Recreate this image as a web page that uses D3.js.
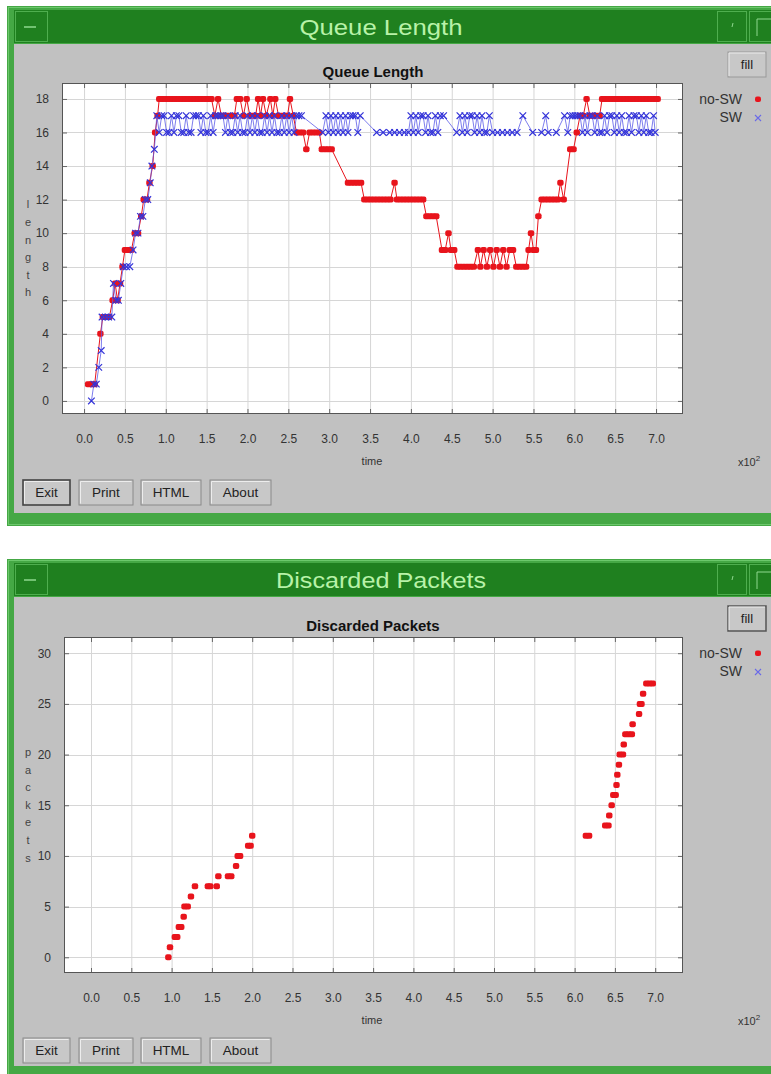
<!DOCTYPE html>
<html><head><meta charset="utf-8">
<script src="https://cdn.jsdelivr.net/npm/d3@7"></script>
<style>
body{margin:0;background:#fff;}
svg{display:block;}
text{font-family:"Liberation Sans",Arial,sans-serif;}
</style></head><body>
<svg id="c" width="771" height="1074"></svg>
<script>
// ---------------- DATA ----------------
const xTickValues = [0,50,100,150,200,250,300,350,400,450,500,550,600,650,700];
const xTickLabels = ["0.0","0.5","1.0","1.5","2.0","2.5","3.0","3.5","4.0","4.5","5.0","5.5","6.0","6.5","7.0"];
const queueTicks = [0,2,4,6,8,10,12,14,16,18];
const discardTicks = [0,5,10,15,20,25,30];
const seriesNames = ["no-SW","SW"];
const buttonLabels = ["Exit","Print","HTML","About"];

// Queue length, no-SW (time, length)
const queueNoSW = [
[5,1],[9,1],[13,1],[20,4],[23,5],[27,5],[31,5],[35,6],[38,7],[41,6],[44,7],[47,8],[50,9],[54,9],[58,9],
[62,10],[66,10],[70,11],[73,12],[77,12],[80,13],[84,14],[87,16],[90,17],
[92,18],[96,18],[100,18],[104,18],[108,18],[112,18],[116,18],[120,18],[124,18],[128,18],[132,18],[136,18],
[140,18],[144,18],[148,18],[152,18],[156,18],
[160,17],[164,18],[168,17],[172,17],[176,17],[180,17],[184,17],[187,18],[191,18],[195,17],[199,18],[203,17],
[207,17],[210,17],[213,18],[216,17],[219,18],[223,17],[228,18],[231,17],[234,18],[238,17],[242,17],[246,17],
[249,17],[252,18],[256,17],
[260,16],[264,16],[268,16],[272,15],[276,16],[280,16],[284,16],[288,16],[291,15],[295,15],[299,15],[303,15],
[323,13],[327,13],[331,13],[335,13],[339,13],[343,12],[347,12],[351,12],[355,12],[359,12],[363,12],[367,12],
[371,12],[375,12],[380,13],[383,12],[387,12],[391,12],[395,12],[399,12],[403,12],[407,12],[411,12],[415,12],
[419,11],[423,11],[427,11],[431,11],
[438,9],[442,9],[446,10],[449,9],[453,9],[457,8],[461,8],[465,8],[469,8],[473,8],[477,8],[482,9],[485,8],
[489,9],[493,8],[497,9],[501,8],[505,9],[509,8],[513,9],[517,8],[521,9],[525,9],[529,8],[533,8],[537,8],
[541,8],[544,9],[547,10],[550,9],[553,9],[556,11],[560,12],[564,12],[568,12],[572,12],[576,12],[580,12],
[583,13],[587,12],[595,15],[599,15],[603,16],[607,17],[611,17],[615,18],[619,17],[623,17],[627,17],[631,17],
[634,18],[638,18],[642,18],[646,18],[650,18],[654,18],[658,18],[662,18],[666,18],[670,18],[674,18],[678,18],
[682,18],[686,18],[690,18],[694,18],[698,18],[702,18]
];

// Queue length, SW (time, length)
const queueSW = [
[9,0],[12,1],[15,1],[18,2],[21,3],[22,5],[26,5],[30,5],[34,5],[36,7],[39,6],[42,6],[45,7],[48,8],[52,8],
[56,8],[60,9],[63,10],[66,10],[69,11],[72,11],[75,12],[78,12],[81,13],[83,14],[86,15],[89,17],
[92,16],[95,17],[98,17],[101,16],[104,16],[107,17],[110,16],[113,17],[116,17],[119,16],[122,16],[125,17],
[128,16],[131,16],[134,17],[137,17],[140,17],[143,16],[146,17],[149,16],[152,16],[155,17],[158,16],[161,17],
[164,17],[167,17],[170,17],[173,16],[176,17],[179,16],[182,16],[185,17],[188,16],[191,17],[194,16],[197,16],
[200,17],[203,16],[206,17],[209,16],[212,17],[215,16],[218,16],[221,17],[224,16],[227,17],[230,16],[233,17],
[236,16],[239,16],[242,17],[245,16],[248,17],[251,16],[254,17],[257,16],[260,17],[263,17],[266,17],
[292,16],[296,17],[299,16],[302,17],[305,16],[308,17],[311,16],[314,17],[317,16],[320,17],[323,16],[326,17],
[329,17],[332,17],[335,16],[338,17],
[358,16],[366,16],[374,16],[380,16],[386,16],[392,16],[397,16],
[400,17],[403,16],[406,17],[409,16],[412,17],[415,17],[418,16],[421,17],[424,16],[427,16],[430,17],[433,16],
[436,17],[440,17],[456,16],
[460,17],[463,16],[466,17],[469,16],[472,17],[475,17],[478,16],[481,17],[484,16],[487,17],[490,16],[493,16],
[496,17],[500,16],[506,16],[512,16],[518,16],[524,16],[530,16],[537,17],[549,16],[560,16],[565,17],[568,16],
[578,16],[588,17],
[592,16],[595,17],[598,17],[601,17],[604,17],[607,17],[610,16],[613,17],[616,16],[619,17],[622,17],[625,16],
[628,17],[631,16],[634,16],[637,17],[640,16],[643,17],[646,17],[649,16],[652,17],[655,16],[658,17],[661,16],
[664,16],[667,17],[670,16],[673,17],[676,17],[679,16],[682,17],[685,16],[688,17],[691,16],[694,16],[697,17],
[699,16]
];

// Discarded packets, no-SW (time, packets)
const discardNoSW = [
[96,0],[98,1],[104,2],[107,2],[109,3],[112,3],[115,4],[116,5],[120,5],[124,6],[129,7],[145,7],[148,7],[156,7],
[158,8],[170,8],[174,8],[180,9],[182,10],[185,10],[195,11],[198,11],[200,12],
[614,12],[618,12],[638,13],[642,13],[643,14],[646,15],[648,16],[651,16],[652,17],[653,18],[655,19],[656,20],
[660,20],[661,21],[663,22],[667,22],[671,22],[672,23],[680,24],[681,25],[683,25],[685,26],[689,27],[693,27],[697,27]
];
// Discarded packets, SW (none discarded)
const discardSW = [];

// ---------------- STYLE ----------------
const RED = "#e8141c", BLUE = "#3434d8", BLUE_LINE = "#5c5ce8";
const GREEN_DARK = "#1f801f", GREEN_BORDER = "#45a845", TITLE_TXT = "#b8f2a8", GRAY = "#c1c1c1";

const svg = d3.select("#c");

function drawWindow(cfg) {
  const g = svg.append("g").attr("transform", `translate(0,${cfg.top})`);
  // frame
  g.append("rect").attr("x",7).attr("y",0).attr("width",780).attr("height",cfg.frameH).attr("fill",GREEN_BORDER);
  g.append("rect").attr("x",8.5).attr("y",1.5).attr("width",780).attr("height",cfg.frameH-3).attr("fill","none").attr("stroke","#6cc86c").attr("stroke-width",1);
  // title bar
  g.append("rect").attr("x",14).attr("y",4).attr("width",770).attr("height",33).attr("fill",GREEN_DARK);
  // left box
  g.append("rect").attr("x",15.5).attr("y",5.5).attr("width",32).attr("height",30).attr("fill","none").attr("stroke","#4fae4f");
  g.append("line").attr("x1",24).attr("x2",36).attr("y1",21).attr("y2",21).attr("stroke","#8fd88f").attr("stroke-width",1.5);
  // right boxes
  g.append("rect").attr("x",717.5).attr("y",5.5).attr("width",29).attr("height",30).attr("fill","none").attr("stroke","#4fae4f");
  g.append("line").attr("x1",733).attr("x2",732).attr("y1",17).attr("y2",21).attr("stroke","#8fd88f");
  g.append("rect").attr("x",749.5).attr("y",5.5).attr("width",30).attr("height",30).attr("fill","none").attr("stroke","#4fae4f");
  g.append("path").attr("d","M757,30 V13 H771").attr("fill","none").attr("stroke","#8fd88f");
  // title text
  g.append("text").attr("x",381).attr("y",29).attr("text-anchor","middle")
    .attr("font-size",22).attr("fill",TITLE_TXT)
    .attr("textLength",cfg.titleW).attr("lengthAdjust","spacingAndGlyphs")
    .text(cfg.title);
  // body
  g.append("rect").attr("x",14).attr("y",38).attr("width",770).attr("height",cfg.bodyH).attr("fill",GRAY);

  // chart title
  g.append("text").attr("x",373).attr("y",cfg.chartTitleY).attr("text-anchor","middle")
    .attr("font-size",15).attr("font-weight","bold").attr("fill","#111").text(cfg.chartTitle);

  // fill button
  const fb = g.append("g").attr("transform",`translate(728,${cfg.fillY})`);
  fb.append("rect").attr("width",38).attr("height",25).attr("fill","#c8c8c8").attr("stroke",cfg.fillFocus?"#555":"#9a9a9a").attr("stroke-width",cfg.fillFocus?1.5:1);
  fb.append("path").attr("d","M1,24 V1 H37").attr("fill","none").attr("stroke","#ececec");
  fb.append("text").attr("x",19).attr("y",17).attr("text-anchor","middle").attr("font-size",13).attr("fill","#222").text("fill");

  // plot area
  const P = cfg.plot;
  const x = d3.scaleLinear().domain(cfg.xDomain).range([P.l, P.r]);
  const y = d3.scaleLinear().domain(cfg.yDomain).range([P.b, P.t]);
  const pg = g.append("g").attr("transform",`translate(0,${-cfg.top})`);
  pg.append("rect").attr("x",P.l).attr("y",P.t).attr("width",P.r-P.l).attr("height",P.b-P.t).attr("fill","#fff");

  // grid
  pg.append("g").selectAll("line").data(xTickValues).join("line")
    .attr("x1",d=>x(d)+0.5).attr("x2",d=>x(d)+0.5).attr("y1",P.t).attr("y2",P.b)
    .attr("stroke","#d6d6d6");
  pg.append("g").selectAll("line").data(cfg.yTicks).join("line")
    .attr("y1",d=>Math.round(y(d))+0.5).attr("y2",d=>Math.round(y(d))+0.5).attr("x1",P.l).attr("x2",P.r)
    .attr("stroke","#d6d6d6");

  // axes (ticks inward, on all four sides)
  const fmtX = (d)=>xTickLabels[xTickValues.indexOf(d)];
  const axB = pg.append("g").attr("transform",`translate(0,${P.b})`)
    .call(d3.axisBottom(x).tickValues(xTickValues).tickFormat(fmtX).tickSize(-5).tickPadding(20));
  const axT = pg.append("g").attr("transform",`translate(0,${P.t})`)
    .call(d3.axisTop(x).tickValues(xTickValues).tickFormat("").tickSize(-5));
  const axL = pg.append("g").attr("transform",`translate(${P.l},0)`)
    .call(d3.axisLeft(y).tickValues(cfg.yTicks).tickSize(-5).tickPadding(13));
  const axR = pg.append("g").attr("transform",`translate(${P.r},0)`)
    .call(d3.axisRight(y).tickValues(cfg.yTicks).tickFormat("").tickSize(-5));
  [axB,axT,axL,axR].forEach(a=>{
    a.select(".domain").remove();
    a.selectAll(".tick line").attr("stroke","#666");
    a.selectAll("text").attr("font-size",12).attr("fill","#333").attr("font-family","Liberation Sans, Arial, sans-serif");
  });
  pg.append("rect").attr("x",P.l+0.5).attr("y",P.t+0.5).attr("width",P.r-P.l-1).attr("height",P.b-P.t-1)
    .attr("fill","none").attr("stroke","#555");

  // series
  const s = cfg.series;
  // no-SW (red)
  if (cfg.lines) {
    pg.append("path").datum(s[0]).attr("fill","none").attr("stroke",RED).attr("stroke-width",1)
      .attr("d",d3.line().x(d=>x(d[0])).y(d=>y(d[1])));
  }
  pg.append("g").selectAll("rect").data(s[0]).join("rect")
    .attr("x",d=>x(d[0])-3.2).attr("y",d=>y(d[1])-3).attr("width",6.4).attr("height",6).attr("rx",2)
    .attr("fill",RED);
  // SW (blue)
  if (cfg.lines && s[1].length) {
    pg.append("path").datum(s[1]).attr("fill","none").attr("stroke",BLUE_LINE).attr("stroke-width",0.8)
      .attr("d",d3.line().x(d=>x(d[0])).y(d=>y(d[1])));
  }
  pg.append("g").selectAll("path.sw").data(s[1]).join("path").attr("class","sw")
    .attr("d",d=>{const cx=x(d[0]), cy=y(d[1]), r=3.3;return `M${cx-r},${cy-r}L${cx+r},${cy+r}M${cx-r},${cy+r}L${cx+r},${cy-r}`;})
    .attr("stroke",BLUE).attr("stroke-width",1.2).attr("fill","none");

  // legend
  const lg = pg.append("g");
  lg.append("text").attr("x",742).attr("y",cfg.legendY).attr("dy","0.35em").attr("text-anchor","end")
    .attr("font-size",14).attr("fill","#333").text(seriesNames[0]);
  lg.append("rect").attr("x",755).attr("y",cfg.legendY-2.5).attr("width",6).attr("height",5.5).attr("rx",2).attr("fill",RED);
  lg.append("text").attr("x",742).attr("y",cfg.legendY+18).attr("dy","0.35em").attr("text-anchor","end")
    .attr("font-size",14).attr("fill","#333").text(seriesNames[1]);
  const lx=758, ly=cfg.legendY+19;
  lg.append("path").attr("d",`M${lx-3},${ly-3}L${lx+3},${ly+3}M${lx-3},${ly+3}L${lx+3},${ly-3}`).attr("stroke","#6a6ae8").attr("stroke-width",1.1);

  // y label (stacked letters)
  const letters = cfg.yLabel.split("");
  const mid = (P.t+P.b)/2, sp = 17.6;
  pg.append("g").selectAll("text").data(letters).join("text")
    .attr("x",28).attr("y",(d,i)=>mid+(i-(letters.length-1)/2)*sp).attr("dy","0.35em")
    .attr("text-anchor","middle").attr("font-size",11).attr("fill","#444").text(d=>d);

  // x label and multiplier
  pg.append("text").attr("x",372).attr("y",cfg.timeY).attr("dy","0.35em").attr("text-anchor","middle")
    .attr("font-size",11).attr("fill","#333").text("time");
  const mt = pg.append("text").attr("x",738).attr("y",cfg.timeY+1).attr("dy","0.35em").attr("font-size",11).attr("fill","#333");
  mt.append("tspan").text("x10");
  mt.append("tspan").attr("dy","-5").attr("font-size",8).text("2");

  // buttons
  const bx = [[23,47],[79,54],[141,60],[210,61]];
  buttonLabels.forEach((b,i)=>{
    const bg = g.append("g").attr("transform",`translate(${bx[i][0]},${cfg.btnY})`);
    bg.append("rect").attr("width",bx[i][1]).attr("height",25).attr("fill","#c8c8c8")
      .attr("stroke",(i===0&&cfg.exitFocus)?"#444":"#8a8a8a").attr("stroke-width",(i===0&&cfg.exitFocus)?1.6:1);
    bg.append("path").attr("d",`M1.5,23.5 V1.5 H${bx[i][1]-1.5}`).attr("fill","none").attr("stroke","#ededed");
    bg.append("text").attr("x",bx[i][1]/2).attr("y",17).attr("text-anchor","middle").attr("font-size",13.5).attr("fill","#222").text(b);
  });
}

drawWindow({
  top:6, frameH:520, bodyH:469, title:"Queue Length", titleW:163, chartTitle:"Queue Length",
  chartTitleY:71, fillY:46, fillFocus:false,
  plot:{l:62,r:683,t:83,b:414}, xDomain:[-27,733], yDomain:[-0.78,18.95], yTicks:queueTicks,
  series:[queueNoSW, queueSW], lines:true, legendY:99, yLabel:"length", timeY:461, btnY:474, exitFocus:true
});
drawWindow({
  top:559, frameH:520, bodyH:469, title:"Discarded Packets", titleW:210, chartTitle:"Discarded Packets",
  chartTitleY:72, fillY:47, fillFocus:true,
  plot:{l:64,r:683,t:637,b:973}, xDomain:[-33.5,734.5], yDomain:[-1.55,31.6], yTicks:discardTicks,
  series:[discardNoSW, discardSW], lines:false, legendY:653, yLabel:"packets", timeY:1020, btnY:479, exitFocus:false
});
</script>
</body></html>
